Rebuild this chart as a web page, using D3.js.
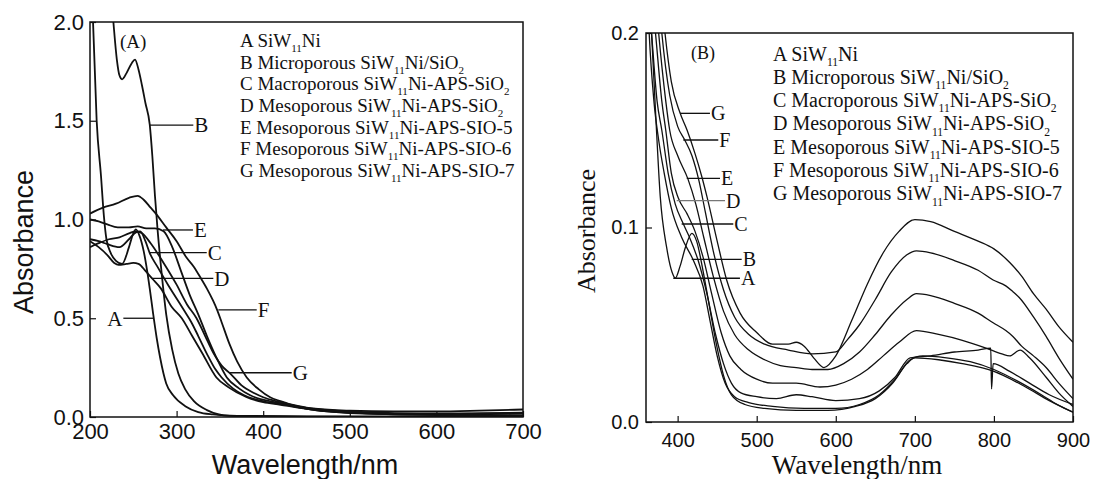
<!DOCTYPE html>
<html>
<head>
<meta charset="utf-8">
<script src="https://cdn.jsdelivr.net/npm/d3@7"></script>
<style>
  body { margin: 0; background: #fff; }
  svg { display: block; }
</style>
</head>
<body>
<svg id="chart" width="1094" height="479"></svg>
<script>
// ---- panel A data: [wavelength nm, absorbance] ----
var specA_A = [[200,2.6],[203.5,2.0],[207.7,1.5],[212.7,1.22],[216,1.02],[219,0.9],[224,0.83],[230,0.79],[237,0.775],[245,0.86],[250,0.93],[253,0.95],[257,0.92],[262,0.84],[266,0.74],[269,0.65],[273,0.52],[277,0.4],[281,0.3],[288,0.17],[296,0.11],[310,0.055],[325,0.025],[342,0.013],[370,0.006],[450,0.003],[700,0.002]];
var specA_B = [[200,3.2],[220,2.4],[227,2.0],[231,1.81],[234,1.73],[237,1.71],[242,1.74],[248,1.79],[252,1.81],[256,1.76],[260,1.68],[264,1.59],[269,1.48],[272,1.32],[275,1.12],[278,0.95],[282,0.76],[288,0.52],[295,0.34],[302,0.22],[310,0.14],[320,0.08],[335,0.035],[361,0.006],[450,0.002],[700,0.002]];
var specA_C = [[200,0.9],[210,0.89],[220,0.875],[234,0.86],[245,0.9],[253,0.935],[258,0.94],[264,0.89],[269,0.83],[278,0.76],[290,0.67],[300,0.6],[310,0.53],[317,0.48],[325,0.41],[335,0.32],[345,0.24],[352,0.2],[365,0.145],[378,0.11],[390,0.09],[405,0.075],[420,0.065],[440,0.05],[460,0.035],[500,0.02],[550,0.014],[600,0.012],[650,0.014],[700,0.018]];
var specA_D = [[200,0.89],[210,0.86],[220,0.82],[228,0.78],[233,0.77],[242,0.775],[250,0.78],[256,0.775],[264,0.74],[272,0.7],[282,0.65],[294,0.56],[306,0.5],[318,0.41],[330,0.32],[346,0.2],[360,0.15],[381,0.1],[400,0.075],[420,0.062],[440,0.048],[470,0.032],[520,0.018],[600,0.01],[700,0.01]];
var specA_E = [[200,1.0],[210,0.99],[220,0.975],[232,0.96],[245,0.96],[255,0.965],[265,0.955],[275,0.955],[285,0.94],[295,0.86],[305,0.74],[315,0.62],[325,0.52],[335,0.41],[345,0.31],[358,0.2],[372,0.145],[385,0.11],[397,0.09],[410,0.078],[425,0.065],[440,0.05],[460,0.035],[500,0.022],[550,0.016],[600,0.015],[650,0.018],[700,0.022]];
var specA_F = [[200,1.03],[215,1.06],[230,1.08],[245,1.11],[255,1.12],[262,1.1],[270,1.06],[276,1.03],[288,0.96],[300,0.89],[311,0.81],[320,0.76],[327,0.71],[335,0.65],[342,0.59],[347,0.54],[352,0.48],[361,0.37],[370,0.28],[381,0.2],[395,0.14],[408,0.1],[420,0.08],[438,0.055],[460,0.042],[500,0.032],[550,0.028],[600,0.028],[650,0.032],[700,0.038]];
var specA_G = [[200,0.86],[210,0.88],[222,0.9],[234,0.91],[245,0.93],[253,0.94],[260,0.93],[270,0.88],[285,0.78],[300,0.67],[312,0.57],[323,0.5],[333,0.41],[343,0.32],[352,0.26],[362,0.22],[375,0.16],[390,0.12],[400,0.1],[415,0.08],[430,0.065],[450,0.048],[480,0.033],[520,0.024],[580,0.018],[650,0.018],[700,0.02]];

// ---- panel B data ----
var specB_A = [[360,0.27],[364,0.22],[367,0.2],[372,0.16],[378,0.116],[386,0.09],[393,0.077],[397,0.074],[403,0.08],[410,0.09],[418,0.097],[424,0.093],[432,0.078],[440,0.06],[449,0.04],[458,0.024],[468,0.014],[485,0.009],[510,0.007],[550,0.006],[590,0.006],[625,0.008],[650,0.012],[672,0.02],[690,0.03],[700,0.033],[730,0.032],[760,0.03],[800,0.026],[840,0.018],[870,0.011],[900,0.005]];
var specB_B = [[360,0.24],[364,0.2],[370,0.165],[376,0.145],[383,0.128],[392,0.11],[405,0.095],[420,0.083],[432,0.07],[441,0.052],[450,0.034],[460,0.02],[472,0.013],[490,0.01],[520,0.008],[560,0.007],[600,0.007],[630,0.009],[655,0.014],[675,0.022],[694,0.032],[710,0.034],[740,0.033],[770,0.031],[800,0.027],[830,0.021],[860,0.014],[880,0.009],[900,0.005]];
var specB_C = [[360,0.25],[363,0.22],[367,0.2],[374,0.165],[380,0.15],[388,0.128],[397,0.112],[407,0.102],[416,0.094],[426,0.083],[437,0.066],[448,0.045],[458,0.03],[468,0.02],[480,0.015],[500,0.013],[525,0.012],[550,0.014],[570,0.013],[600,0.011],[630,0.012],[655,0.016],[675,0.023],[694,0.033],[720,0.034],[750,0.036],[780,0.037],[796,0.038],[797,0.017],[799,0.03],[820,0.026],[845,0.02],[870,0.014],[900,0.009]];
var specB_D = [[360,0.26],[365,0.23],[372,0.2],[380,0.165],[385,0.15],[392,0.128],[401,0.115],[412,0.107],[422,0.098],[432,0.085],[443,0.066],[455,0.046],[466,0.034],[480,0.027],[500,0.022],[520,0.02],[550,0.02],[580,0.018],[600,0.019],[620,0.022],[640,0.027],[660,0.034],[680,0.041],[702,0.047],[730,0.045],[760,0.042],[790,0.038],[810,0.035],[820,0.034],[833,0.037],[845,0.033],[866,0.023],[882,0.015],[900,0.008]];
var specB_E = [[360,0.28],[368,0.24],[376,0.2],[385,0.165],[390,0.15],[400,0.137],[413,0.125],[423,0.112],[433,0.095],[445,0.075],[458,0.057],[472,0.045],[490,0.037],[510,0.032],[530,0.029],[550,0.028],[570,0.027],[590,0.027],[610,0.03],[630,0.036],[650,0.045],[670,0.055],[690,0.063],[702,0.066],[720,0.065],[750,0.061],[780,0.056],[799,0.051],[815,0.047],[824,0.044],[835,0.039],[850,0.034],[866,0.028],[882,0.02],[900,0.012]];
var specB_F = [[360,0.3],[372,0.24],[380,0.2],[390,0.168],[400,0.152],[409,0.145],[418,0.137],[427,0.124],[435,0.108],[445,0.088],[458,0.068],[472,0.054],[490,0.045],[510,0.04],[540,0.037],[570,0.035],[600,0.036],[614,0.042],[630,0.05],[650,0.063],[670,0.077],[690,0.086],[702,0.088],[720,0.087],[750,0.083],[780,0.078],[799,0.073],[815,0.07],[824,0.067],[832,0.064],[850,0.054],[866,0.044],[882,0.033],[900,0.022]];
var specB_G = [[360,0.32],[375,0.24],[384,0.2],[392,0.175],[403,0.159],[412,0.15],[422,0.138],[430,0.127],[437,0.116],[450,0.093],[462,0.073],[479,0.056],[500,0.046],[520,0.04],[540,0.04],[550,0.041],[560,0.039],[572,0.033],[585,0.028],[600,0.034],[620,0.052],[640,0.071],[660,0.087],[680,0.098],[700,0.104],[720,0.103],[750,0.098],[780,0.093],[800,0.089],[820,0.082],[835,0.075],[850,0.066],[866,0.058],[882,0.049],[900,0.041]];

// ticks
var ticksAx = [200,300,400,500,600,700];
var ticksAy = [0,0.5,1.0,1.5,2.0];
var ticksBx = [400,500,600,700,800,900];
var ticksBy = [0,0.1,0.2];

// callouts: [letter, wavelength at curve, wavelength at letter, absorbance]
var calloutsA = [["B",269.3,319.3,1.478],["E",284.3,318.9,0.947],["C",269.3,334.8,0.832],["D",271.2,342.4,0.702],["F",348.2,392.5,0.542],["G",361.7,432.9,0.224],["A",273.1,238.5,0.50]];
var calloutsB = [["G",403,440.9,0.1587],["F",407.2,451.4,0.145],["E",411.5,453.6,0.1253],["D",398.8,459.9,0.1138],["C",405.1,470.4,0.1018],["B",417.8,481,0.0836],["A",394.5,478.8,0.0739]];

// legend rows, odd pieces are subscripts
var legendRows = [
  ["A SiW","11","Ni"],
  ["B Microporous SiW","11","Ni/SiO","2"],
  ["C Macroporous SiW","11","Ni-APS-SiO","2"],
  ["D Mesoporous SiW","11","Ni-APS-SiO","2"],
  ["E Mesoporous SiW","11","Ni-APS-SIO-5"],
  ["F Mesoporous SiW","11","Ni-APS-SIO-6"],
  ["G Mesoporous SiW","11","Ni-APS-SIO-7"]
];

var SANS = '"Liberation Sans", Arial, sans-serif';
var SERIF = '"Liberation Serif", "Times New Roman", serif';

var svg = d3.select("#chart");
svg.append("rect").attr("width",1094).attr("height",479).attr("fill","#fff");

function drawPanel(o){
	var x = o.x, y = o.y;
	var g = svg.append("g");
	var x0 = x.range()[0], x1 = x.range()[1], y0 = y.range()[0], y1 = y.range()[1];

	g.append("clipPath").attr("id", o.id + "-clip")
		.append("rect").attr("x", x0).attr("y", y1).attr("width", x1 - x0).attr("height", y0 - y1);

	// x axis, ticks point inward
	var xa = g.append("g")
		.attr("transform", "translate(0," + y0 + ")")
		.call(d3.axisBottom(x).tickValues(o.xTicks).tickSizeInner(-6).tickSizeOuter(0).tickPadding(o.xPad).tickFormat(d3.format("d")));
	xa.select(".domain").remove();
	xa.attr("font-family", o.tickFont).attr("font-size", o.tickSize);
	xa.selectAll("line").attr("stroke", "#111").attr("stroke-width", 1.2);
	xa.selectAll("text").attr("fill", "#111");

	var ya = g.append("g")
		.attr("transform", "translate(" + x0 + ",0)")
		.call(d3.axisLeft(y).tickValues(o.yTicks).tickSizeInner(-6).tickSizeOuter(0).tickPadding(o.yPad).tickFormat(d3.format(".1f")));
	ya.select(".domain").remove();
	ya.attr("font-family", o.tickFont).attr("font-size", o.tickSize);
	ya.selectAll("line").attr("stroke", "#111").attr("stroke-width", 1.2);
	ya.selectAll("text").attr("fill", "#111");

	// curves
	var line = d3.line().x(function(d){ return x(d[0]); }).y(function(d){ return y(d[1]); }).curve(d3.curveMonotoneX);
	g.append("g").attr("clip-path", "url(#" + o.id + "-clip)")
		.selectAll("path").data(o.series).enter().append("path")
		.attr("d", line)
		.attr("fill", "none")
		.attr("stroke", "#111")
		.attr("stroke-width", o.lineWidth)
		.attr("stroke-linejoin", "round");

	// frame
	g.append("rect").attr("x", x0).attr("y", y1).attr("width", x1 - x0).attr("height", y0 - y1)
		.attr("fill", "none").attr("stroke", "#111").attr("stroke-width", 1.5);

	// callouts
	o.callouts.forEach(function(c){
		var gray = (o.grayKey === c[0]);
		g.append("line")
			.attr("x1", x(c[1])).attr("x2", x(c[2]))
			.attr("y1", y(c[3])).attr("y2", y(c[3]))
			.attr("stroke", gray ? "#777" : "#111").attr("stroke-width", 1.3);
		var left = c[2] < c[1];
		g.append("text")
			.attr("x", x(c[2]) + (left ? -1 : 1))
			.attr("y", y(c[3]))
			.attr("dy", "0.35em")
			.attr("text-anchor", left ? "end" : "start")
			.attr("font-family", SERIF).attr("font-size", o.calloutSize)
			.attr("fill", "#111")
			.text(c[0]);
	});

	// panel tag
	g.append("text").attr("x", o.tag[1]).attr("y", o.tag[2])
		.attr("font-family", SERIF).attr("font-size", o.tag[3]).attr("fill", "#111").text(o.tag[0]);

	// legend
	var fs = o.legend.size;
	legendRows.forEach(function(row, i){
		var t = g.append("text").attr("x", o.legend.x).attr("y", o.legend.y + i * o.legend.step)
			.attr("font-family", SERIF).attr("font-size", fs).attr("fill", "#111");
		var shift = fs * 0.26;
		row.forEach(function(piece, j){
			var sp = t.append("tspan").text(piece);
			if (j % 2 === 1) sp.attr("font-size", fs * 0.58).attr("dy", shift);
			else if (j > 0) sp.attr("dy", -shift);
		});
	});

	// axis titles
	g.append("text")
		.attr("transform", "translate(" + o.yTitle[0] + "," + o.yTitle[1] + ") rotate(-90)")
		.attr("text-anchor", "middle")
		.attr("font-family", o.titleFont).attr("font-size", o.titleSize[1]).attr("fill", "#111")
		.text("Absorbance");
	g.append("text")
		.attr("x", o.xTitle[0]).attr("y", o.xTitle[1])
		.attr("text-anchor", "middle")
		.attr("font-family", o.titleFont).attr("font-size", o.titleSize[0]).attr("fill", "#111")
		.text("Wavelength/nm");
}

drawPanel({
	id: "pa",
	x: d3.scaleLinear().domain([200,700]).range([90,523]),
	y: d3.scaleLinear().domain([0,2]).range([417,22]),
	xTicks: ticksAx, yTicks: ticksAy, xPad: 6, yPad: 6,
	tickFont: SANS, tickSize: 22,
	series: [specA_A, specA_B, specA_C, specA_D, specA_E, specA_F, specA_G],
	lineWidth: 1.8,
	callouts: calloutsA, calloutSize: 21, grayKey: null,
	tag: ["(A)", 120, 48, 19],
	legend: {x: 240, y: 47, step: 21.67, size: 19},
	titleFont: SANS, titleSize: [27, 27],
	yTitle: [33, 242], xTitle: [305, 474]
});

drawPanel({
	id: "pb",
	x: d3.scaleLinear().domain([360,900]).range([646,1073]),
	y: d3.scaleLinear().domain([0,0.2]).range([422,33]),
	xTicks: ticksBx, yTicks: ticksBy, xPad: 11, yPad: 7,
	tickFont: SANS, tickSize: 20,
	series: [specB_A, specB_B, specB_C, specB_D, specB_E, specB_F, specB_G],
	lineWidth: 1.3,
	callouts: calloutsB, calloutSize: 20, grayKey: "D",
	tag: ["(B)", 691, 59, 18],
	legend: {x: 773, y: 60.5, step: 23.3, size: 20},
	titleFont: SERIF, titleSize: [27, 26],
	yTitle: [595, 231], xTitle: [857, 474]
});
</script>
</body>
</html>
